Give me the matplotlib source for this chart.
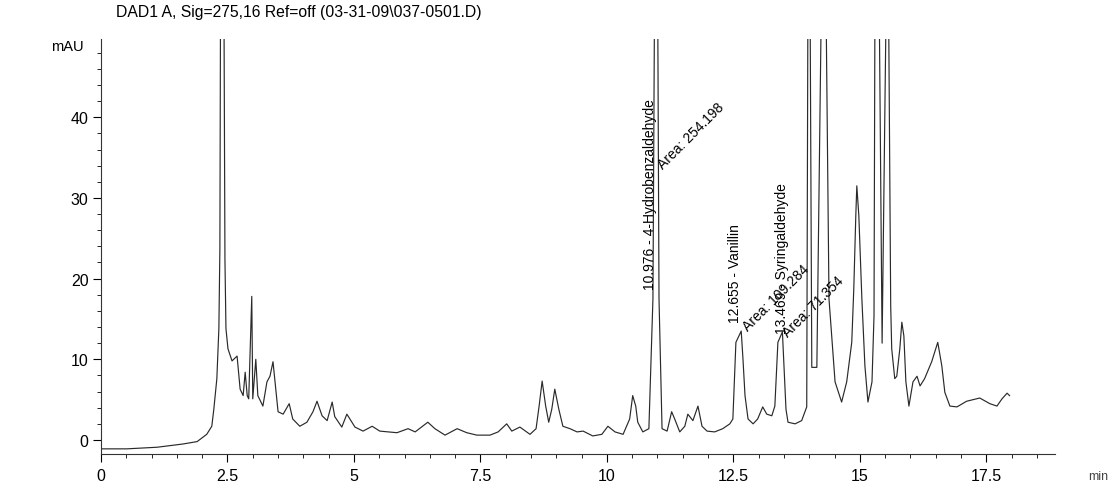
import numpy as np
import matplotlib.pyplot as plt
from matplotlib.ticker import MultipleLocator

plt.rcParams['font.family'] = ['Liberation Sans', 'DejaVu Sans']

# DAD1 A trace, retention time (min) vs absorbance (mAU)
rt = [0.00, 0.51, 1.11, 1.62, 1.90, 2.09, 2.19, 2.23, 2.29, 2.33, 2.35, 2.39, 2.45, 2.47,
      2.51, 2.59, 2.69, 2.75, 2.81, 2.85, 2.89, 2.92, 2.98, 3.00, 3.06, 3.10, 3.20, 3.28,
      3.34, 3.40, 3.44, 3.50, 3.60, 3.72, 3.79, 3.93, 4.07, 4.19, 4.27, 4.37, 4.47, 4.57,
      4.62, 4.76, 4.86, 5.02, 5.18, 5.36, 5.51, 5.85, 6.07, 6.21, 6.46, 6.60, 6.80, 7.04,
      7.23, 7.43, 7.69, 7.85, 8.02, 8.12, 8.28, 8.48, 8.60, 8.66, 8.72, 8.79, 8.85, 8.91,
      8.97, 9.05, 9.13, 9.27, 9.41, 9.53, 9.72, 9.90, 10.02, 10.16, 10.32, 10.45, 10.51,
      10.57, 10.61, 10.71, 10.83, 10.91, 10.976, 11.03, 11.09, 11.19, 11.28, 11.34, 11.44,
      11.54, 11.60, 11.70, 11.80, 11.88, 11.98, 12.13, 12.29, 12.43, 12.49, 12.55, 12.655,
      12.69, 12.73, 12.79, 12.89, 12.98, 13.08, 13.16, 13.26, 13.32, 13.38, 13.469, 13.50,
      13.54, 13.58, 13.72, 13.85, 13.95, 13.99, 14.05, 14.15, 14.29, 14.39, 14.51, 14.64,
      14.74, 14.84, 14.88, 14.92, 14.94, 14.98, 15.04, 15.10, 15.16, 15.24, 15.28, 15.32,
      15.44, 15.55, 15.61, 15.63, 15.69, 15.73, 15.79, 15.83, 15.87, 15.91, 15.97, 16.05,
      16.13, 16.19, 16.28, 16.42, 16.54, 16.62, 16.68, 16.78, 16.92, 17.11, 17.31, 17.37,
      17.57, 17.71, 17.81, 17.91, 17.96]
mau = [-1.1, -1.1, -0.9, -0.5, -0.2, 0.7, 1.7, 3.8, 7.6, 13.8, 23.7, 120.0, 22.4, 13.8,
       11.3, 9.8, 10.4, 6.3, 5.5, 8.4, 5.5, 5.1, 17.8, 5.1, 10.0, 5.5, 4.2, 7.2,
       7.9, 9.7, 7.2, 3.5, 3.2, 4.5, 2.6, 1.7, 2.2, 3.5, 4.8, 3.0, 2.4, 4.7,
       2.9, 1.6, 3.2, 1.6, 1.1, 1.7, 1.1, 0.9, 1.4, 1.0, 2.2, 1.4, 0.6, 1.4,
       0.9, 0.6, 0.6, 1.0, 2.0, 1.1, 1.6, 0.7, 1.4, 4.2, 7.3, 4.2, 2.2, 3.8,
       6.3, 3.8, 1.7, 1.4, 1.0, 1.1, 0.5, 0.7, 1.7, 1.0, 0.7, 2.6, 5.5,
       4.2, 2.2, 1.0, 1.4, 17.5, 95.0, 17.5, 1.4, 1.1, 3.5, 2.6, 1.0,
       1.7, 3.2, 2.4, 4.2, 1.7, 1.1, 1.0, 1.4, 2.0, 2.6, 12.1, 13.5,
       10.0, 5.5, 2.6, 2.0, 2.6, 4.1, 3.2, 3.0, 4.2, 12.1, 13.4, 9.2,
       3.8, 2.2, 2.0, 2.4, 4.1, 90.0, 9.0, 9.0, 80.0, 17.5, 7.2, 4.7,
       7.2, 12.1, 18.7, 27.8, 31.5, 27.8, 17.5, 9.2, 4.7, 7.2, 15.4, 100.0,
       12.0, 70.0, 16.6, 11.3, 7.6, 7.9, 11.3, 14.6, 12.9, 7.2, 4.2, 7.2,
       7.9, 6.7, 7.6, 9.7, 12.1, 9.2, 5.9, 4.2, 4.1, 4.8, 5.1, 5.2,
       4.5, 4.2, 5.1, 5.8, 5.5]

# integrated peaks: retention time, compound, area
peak_rt = ['10.976', '12.655', '13.469']
peak_name = ['4-Hydrobenzaldehyde', 'Vanillin', 'Syringaldehyde']
peak_area = ['254.198', '109.284', '71.354']

fig = plt.figure(figsize=(11.16, 4.85), dpi=100)
ax = fig.add_axes([0.0905, 0.062, 0.8545, 0.8555])
ax.plot(rt, mau, color='#2a2a2a', lw=0.85)

ax.set_xlim(0, 18.85)
ax.set_ylim(-1.73, 49.7)
ax.set_xticks([0, 2.5, 5, 7.5, 10, 12.5, 15, 17.5])
ax.set_xticklabels(['0', '2.5', '5', '7.5', '10', '12.5', '15', '17.5'])
ax.set_yticks([0, 10, 20, 30, 40])
ax.xaxis.set_minor_locator(MultipleLocator(0.5))
ax.yaxis.set_minor_locator(MultipleLocator(2))
ax.tick_params(which='major', direction='out', length=6, width=0.8, labelsize=11.5, pad=4)
ax.tick_params(axis='y', which='major', pad=3)
ax.tick_params(which='minor', direction='out', length=3, width=0.6)
for s in ['top', 'right']:
    ax.spines[s].set_visible(False)
for s in ['left', 'bottom']:
    ax.spines[s].set_linewidth(0.8)
    ax.spines[s].set_color('#333333')

fig.text(116 / 1116, 1 - 13 / 485, 'DAD1 A, Sig=275,16 Ref=off (03-31-09\\037-0501.D)',
         fontsize=11.3, va='center', ha='left')
fig.text(51 / 1116, 1 - 47 / 485, 'mAU', fontsize=10.5, va='center', ha='left')
fig.text(1088 / 1116, 1 - 477 / 485, 'min', fontsize=9, va='center', ha='left', color='#444444')

# peak labels: vertical name, diagonal area
lab_x = [10.85, 12.53, 13.47]
lab_y = [18.7, 14.6, 13.3]
area_x = [11.05, 12.73, 13.52]
area_y = [34.0, 13.8, 13.1]
for i in range(3):
    ax.text(lab_x[i], lab_y[i], peak_rt[i] + ' - ' + peak_name[i], rotation=90,
            ha='center', va='bottom', fontsize=10)
    ax.text(area_x[i], area_y[i], 'Area: ' + peak_area[i], rotation=45,
            rotation_mode='anchor', ha='left', va='center', fontsize=10)

fig.savefig('out.png', dpi=100)
